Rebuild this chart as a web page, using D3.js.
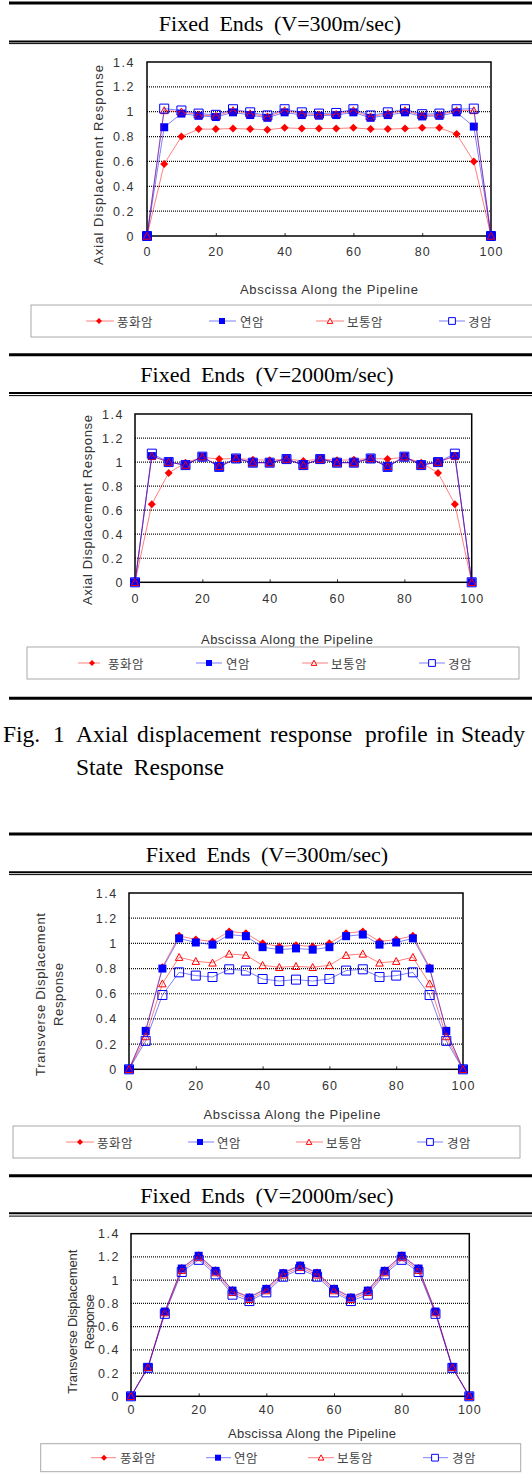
<!DOCTYPE html>
<html>
<head>
<meta charset="utf-8">
<script src="https://cdn.jsdelivr.net/npm/d3@7/dist/d3.min.js"></script>
<style>
body { margin: 0; background: #fff; }
svg { display: block; }
</style>
</head>
<body>
<div id="chart"></div>
<script>
// ---- data ----
var xValues = [0, 5, 10, 15, 20, 25, 30, 35, 40, 45, 50, 55, 60, 65, 70, 75, 80, 85, 90, 95, 100];
var xTicks = [0, 20, 40, 60, 80, 100];
var yTicks = [0, 0.2, 0.4, 0.6, 0.8, 1, 1.2, 1.4];
var seriesNames = ["풍화암", "연암", "보통암", "경암"];

var panelTitles = ["Fixed Ends (V=300m/sec)", "Fixed Ends (V=2000m/sec)", "Fixed Ends (V=300m/sec)", "Fixed Ends (V=2000m/sec)"];
var axialTitle = ["Axial Displacement Response"];
var transverseTitle = ["Transverse Displacement", "Response"];
var xAxisTitle = "Abscissa Along the Pipeline";
var captionLine1 = ["Fig.", "1", "Axial", "displacement", "response", "profile", "in", "Steady"];
var captionLine2 = "State Response";

// axial, V=300
var axial300Weathered = [0, 0.58, 0.80, 0.86, 0.86, 0.865, 0.86, 0.855, 0.87, 0.865, 0.865, 0.865, 0.87, 0.86, 0.86, 0.865, 0.87, 0.87, 0.82, 0.60, 0];
var axial300Soft = [0, 0.875, 0.985, 0.967, 0.957, 0.995, 0.973, 0.951, 0.995, 0.973, 0.968, 0.973, 0.995, 0.951, 0.973, 0.995, 0.962, 0.967, 0.995, 0.88, 0];
var axial300Normal = [0, 1.01, 1.0, 0.975, 0.965, 1.01, 0.985, 0.96, 1.01, 0.985, 0.975, 0.98, 1.01, 0.96, 0.985, 1.01, 0.97, 0.975, 1.01, 1.01, 0];
var axial300Hard = [0, 1.025, 1.01, 0.985, 0.975, 1.02, 0.995, 0.97, 1.02, 0.995, 0.985, 0.99, 1.02, 0.97, 0.995, 1.02, 0.98, 0.985, 1.02, 1.025, 0];

// axial, V=2000
var axial2000Weathered = [0, 0.65, 0.91, 0.995, 1.04, 1.025, 1.03, 1.02, 1.015, 1.025, 1.01, 1.025, 1.015, 1.02, 1.03, 1.025, 1.04, 0.995, 0.91, 0.65, 0];
var axial2000Soft = [0, 1.05, 1.0, 0.975, 1.045, 0.96, 1.03, 0.995, 0.995, 1.025, 0.975, 1.025, 0.995, 0.995, 1.03, 0.96, 1.045, 0.975, 1.0, 1.05, 0];
var axial2000Normal = [0, 1.05, 1.0, 0.975, 1.045, 0.965, 1.03, 0.995, 0.995, 1.025, 0.975, 1.025, 0.995, 0.995, 1.03, 0.965, 1.045, 0.975, 1.0, 1.05, 0];
var axial2000Hard = [0, 1.07, 1.0, 0.975, 1.045, 0.96, 1.03, 0.995, 0.995, 1.025, 0.975, 1.025, 0.995, 0.995, 1.03, 0.96, 1.045, 0.975, 1.0, 1.07, 0];

// transverse, V=300
var trans300Weathered = [0, 0.31, 0.81, 1.06, 1.03, 1.015, 1.095, 1.08, 1.0, 0.975, 0.985, 0.975, 1.0, 1.08, 1.095, 1.015, 1.03, 1.06, 0.81, 0.31, 0];
var trans300Soft = [0, 0.305, 0.80, 1.04, 1.007, 0.99, 1.07, 1.057, 0.97, 0.95, 0.96, 0.95, 0.97, 1.057, 1.07, 0.99, 1.007, 1.04, 0.80, 0.305, 0];
var trans300Normal = [0, 0.26, 0.68, 0.89, 0.858, 0.845, 0.916, 0.906, 0.826, 0.81, 0.818, 0.81, 0.826, 0.906, 0.916, 0.845, 0.858, 0.89, 0.68, 0.26, 0];
var trans300Hard = [0, 0.226, 0.59, 0.77, 0.744, 0.733, 0.794, 0.784, 0.717, 0.701, 0.712, 0.701, 0.717, 0.784, 0.794, 0.733, 0.744, 0.77, 0.59, 0.226, 0];

// transverse, V=2000
var trans2000Weathered = [0, 0.25, 0.73, 1.105, 1.215, 1.085, 0.915, 0.855, 0.93, 1.065, 1.13, 1.065, 0.93, 0.855, 0.915, 1.085, 1.215, 1.105, 0.73, 0.25, 0];
var trans2000Soft = [0, 0.25, 0.73, 1.10, 1.21, 1.08, 0.91, 0.85, 0.925, 1.06, 1.125, 1.06, 0.925, 0.85, 0.91, 1.08, 1.21, 1.10, 0.73, 0.25, 0];
var trans2000Normal = [0, 0.25, 0.72, 1.085, 1.195, 1.065, 0.895, 0.835, 0.91, 1.045, 1.11, 1.045, 0.91, 0.835, 0.895, 1.065, 1.195, 1.085, 0.72, 0.25, 0];
var trans2000Hard = [0, 0.245, 0.71, 1.07, 1.175, 1.05, 0.875, 0.82, 0.895, 1.03, 1.095, 1.03, 0.895, 0.82, 0.875, 1.05, 1.175, 1.07, 0.71, 0.245, 0];

// ---- styles ----
var seriesStyle = [
    {color: "#ff0000", marker: "diamond", filled: true},
    {color: "#0000ff", marker: "square", filled: true},
    {color: "#ff0000", marker: "triangle", filled: false},
    {color: "#0000ff", marker: "square", filled: false}
];
var sansFont = "'Liberation Sans', Arial, sans-serif";
var krFont = "'Noto Sans CJK KR', sans-serif";
var serifFont = "'Liberation Serif', 'Times New Roman', serif";

// layout of each panel (pixels)
var panels = [
    {title: panelTitles[0], titleCx: 280, titleY: 31,
     plot: [147, 491, 62, 236], yLabelRight: 135, xLabelCy: 251.7,
     yTitle: axialTitle, yTitleX: [98], yTitleCy: 165, yTitleLen: [200],
     xTitleCx: 329, xTitleCy: 289, xTitleLen: 178,
     legend: [31, 545, 305, 337], legendItems: [[86, 114, 99, 117], [209, 236, 222, 240], [316, 344, 330, 347], [439, 465, 452, 468]],
     series: [axial300Weathered, axial300Soft, axial300Normal, axial300Hard]},
    {title: panelTitles[1], titleCx: 267, titleY: 382.3,
     plot: [135, 471.7, 414, 582.3], yLabelRight: 124, xLabelCy: 598.3,
     yTitle: axialTitle, yTitleX: [87.5], yTitleCy: 510, yTitleLen: [190],
     xTitleCx: 287, xTitleCy: 639, xTitleLen: 172,
     legend: [27, 519, 647, 679], legendItems: [[78, 100, 92, 108], [196, 222, 209, 226], [302, 328, 314, 331], [419, 445, 432, 448]],
     series: [axial2000Weathered, axial2000Soft, axial2000Normal, axial2000Hard]},
    {title: panelTitles[2], titleCx: 267, titleY: 861.7,
     plot: [129, 463, 893, 1069.3], yLabelRight: 117.7, xLabelCy: 1085.5,
     yTitle: transverseTitle, yTitleX: [40, 58], yTitleCy: 994.5, yTitleLen: [163, 63],
     xTitleCx: 292, xTitleCy: 1114, xTitleLen: 177,
     legend: [13, 520, 1126, 1158], legendItems: [[66, 94, 80, 97], [188, 214, 200, 217], [296, 323, 309, 326], [417, 443, 430, 447]],
     series: [trans300Weathered, trans300Soft, trans300Normal, trans300Hard]},
    {title: panelTitles[3], titleCx: 267, titleY: 1203.3,
     plot: [131, 469.3, 1233.7, 1396.3], yLabelRight: 120, xLabelCy: 1409.7,
     yTitle: transverseTitle, yTitleX: [72, 89], yTitleCy: 1321.7, yTitleLen: [144, 55],
     xTitleCx: 312, xTitleCy: 1433.7, xTitleLen: 168,
     legend: [40.7, 520.7, 1443.7, 1471.7], legendItems: [[91, 116, 104, 120], [206, 231, 218, 234], [308, 334, 321, 337], [423, 448, 435, 452]],
     series: [trans2000Weathered, trans2000Soft, trans2000Normal, trans2000Hard]}
];

// horizontal rules: [y, thickness]
var rules = [[3, 3], [41.5, 2], [43.6, 1],
             [354.7, 3], [393, 2], [395.6, 1],
             [698.3, 3], [834, 3], [872.3, 2], [874.6, 1],
             [1175.8, 3], [1213.3, 2], [1216.1, 1]];

var svg = d3.select("#chart").append("svg")
    .attr("width", 532)
    .attr("height", 1478);

svg.selectAll(".rule")
    .data(rules)
    .enter().append("line")
    .attr("class", "rule")
    .attr("x1", 9).attr("x2", 532)
    .attr("y1", function(d) { return d[0]; })
    .attr("y2", function(d) { return d[0]; })
    .attr("stroke", "#000")
    .attr("stroke-width", function(d) { return d[1]; });

function markerPath(type, s) {
    var r = s / 2;
    if (type === "diamond") {
        return "M0," + (-r) + "L" + r + ",0L0," + r + "L" + (-r) + ",0Z";
    }
    if (type === "triangle") {
        return "M0," + (-r) + "L" + r + "," + (r * 0.85) + "L" + (-r) + "," + (r * 0.85) + "Z";
    }
    return "M" + (-r) + "," + (-r) + "H" + r + "V" + r + "H" + (-r) + "Z";
}

function markerSize(st) {
    if (st.marker === "diamond") return 8;
    if (st.marker === "triangle") return 7.5;
    return st.filled ? 8 : 9;
}

function drawMarker(sel, st, legend) {
    var k = legend ? 0.75 : 1;
    sel.attr("d", markerPath(st.marker, markerSize(st) * k))
        .attr("fill", st.filled ? st.color : (legend ? "#fff" : "none"))
        .attr("stroke", st.filled ? "none" : st.color)
        .attr("stroke-width", st.filled ? 0 : 1);
}

function drawPanel(cfg) {
    var g = svg.append("g");
    var x = d3.scaleLinear().domain([0, 100]).range([cfg.plot[0], cfg.plot[1]]);
    var y = d3.scaleLinear().domain([0, 1.4]).range([cfg.plot[3], cfg.plot[2]]);
    var fs = 12.5;

    // title
    g.append("text")
        .attr("x", cfg.titleCx)
        .attr("y", cfg.titleY)
        .attr("text-anchor", "middle")
        .attr("font-family", serifFont)
        .attr("font-size", 22)
        .attr("word-spacing", 5)
        .text(cfg.title);

    // gridlines
    g.selectAll(".grid")
        .data(yTicks.filter(function(v) { return v > 0 && v < 1.4; }))
        .enter().append("line")
        .attr("x1", cfg.plot[0]).attr("x2", cfg.plot[1])
        .attr("y1", function(d) { return y(d); })
        .attr("y2", function(d) { return y(d); })
        .attr("stroke", "#111")
        .attr("stroke-width", 1.2)
        .attr("stroke-dasharray", "1,1");

    // y axis labels
    var yAxis = d3.axisLeft(y)
        .tickValues(yTicks)
        .tickSize(0)
        .tickPadding(cfg.plot[0] - cfg.yLabelRight)
        .tickFormat(d3.format("~g"));
    var ya = g.append("g")
        .attr("transform", "translate(" + cfg.plot[0] + ",0)")
        .call(yAxis);
    ya.select(".domain").remove();
    ya.selectAll("text")
        .attr("font-family", sansFont)
        .attr("font-size", fs)
        .attr("fill", "#333")
        .attr("letter-spacing", 1.5);

    // x axis labels + inner ticks
    var xAxis = d3.axisBottom(x)
        .tickValues(xTicks)
        .tickSizeInner(-3)
        .tickSizeOuter(0)
        .tickPadding(cfg.xLabelCy - cfg.plot[3] - 0.352 * fs)
        .tickFormat(d3.format("d"));
    var xa = g.append("g")
        .attr("transform", "translate(0," + cfg.plot[3] + ")")
        .call(xAxis);
    xa.select(".domain").remove();
    xa.selectAll("line").attr("stroke", "#333");
    xa.selectAll("text")
        .attr("font-family", sansFont)
        .attr("font-size", fs)
        .attr("fill", "#333")
        .attr("letter-spacing", 1);

    // plot frame
    g.append("rect")
        .attr("x", cfg.plot[0])
        .attr("y", cfg.plot[2])
        .attr("width", cfg.plot[1] - cfg.plot[0])
        .attr("height", cfg.plot[3] - cfg.plot[2])
        .attr("fill", "none")
        .attr("stroke", "#000")
        .attr("stroke-width", 1.5);

    // y axis title
    cfg.yTitle.forEach(function(t, i) {
        g.append("text")
            .attr("transform", "translate(" + cfg.yTitleX[i] + "," + cfg.yTitleCy + ") rotate(-90)")
            .attr("text-anchor", "middle")
            .attr("dominant-baseline", "central")
            .attr("font-family", sansFont)
            .attr("font-size", 13)
            .attr("fill", "#333")
            .attr("textLength", cfg.yTitleLen[i])
            .attr("lengthAdjust", "spacing")
            .text(t);
    });

    // x axis title
    g.append("text")
        .attr("x", cfg.xTitleCx)
        .attr("y", cfg.xTitleCy)
        .attr("text-anchor", "middle")
        .attr("dominant-baseline", "central")
        .attr("font-family", sansFont)
        .attr("font-size", 13)
        .attr("fill", "#333")
        .attr("textLength", cfg.xTitleLen)
        .attr("lengthAdjust", "spacing")
        .text(xAxisTitle);

    // series
    var line = d3.line()
        .x(function(d, i) { return x(xValues[i]); })
        .y(function(d) { return y(d); });
    cfg.series.forEach(function(vals, si) {
        var st = seriesStyle[si];
        g.append("path")
            .datum(vals)
            .attr("d", line)
            .attr("fill", "none")
            .attr("stroke", st.color)
            .attr("stroke-opacity", 0.5)
            .attr("stroke-width", 1);
        g.selectAll(".m" + si)
            .data(vals)
            .enter().append("path")
            .attr("class", "m" + si)
            .attr("transform", function(d, i) { return "translate(" + x(xValues[i]) + "," + y(d) + ")"; })
            .call(drawMarker, st, false);
    });

    // legend
    var lg = cfg.legend;
    g.append("rect")
        .attr("x", lg[0]).attr("y", lg[2])
        .attr("width", lg[1] - lg[0])
        .attr("height", lg[3] - lg[2])
        .attr("fill", "none")
        .attr("stroke", "#aaa")
        .attr("stroke-width", 1);
    var cy = (lg[2] + lg[3]) / 2;
    cfg.legendItems.forEach(function(it, si) {
        var st = seriesStyle[si];
        g.append("line")
            .attr("x1", it[0]).attr("x2", it[1])
            .attr("y1", cy).attr("y2", cy)
            .attr("stroke", st.color)
            .attr("stroke-opacity", 0.5)
            .attr("stroke-width", 1);
        g.append("path")
            .attr("transform", "translate(" + it[2] + "," + cy + ")")
            .call(drawMarker, st, true);
        g.append("text")
            .attr("x", it[3])
            .attr("y", cy)
            .attr("dominant-baseline", "central")
            .attr("font-family", krFont)
            .attr("font-size", 12.5)
            .attr("fill", "#444")
            .attr("letter-spacing", 0.5)
            .text(seriesNames[si]);
    });
}

panels.forEach(drawPanel);

// figure caption
var captionX = [3, 53, 76, 137, 270, 365, 436, 461];
var cap = svg.append("text")
    .attr("y", 741.7)
    .attr("font-family", serifFont)
    .attr("font-size", 23.5);
cap.selectAll("tspan")
    .data(captionLine1)
    .enter().append("tspan")
    .attr("x", function(d, i) { return captionX[i]; })
    .text(function(d) { return d; });
svg.append("text")
    .attr("x", 76)
    .attr("y", 775)
    .attr("font-family", serifFont)
    .attr("font-size", 23.5)
    .attr("word-spacing", 5)
    .text(captionLine2);
</script>
</body>
</html>
